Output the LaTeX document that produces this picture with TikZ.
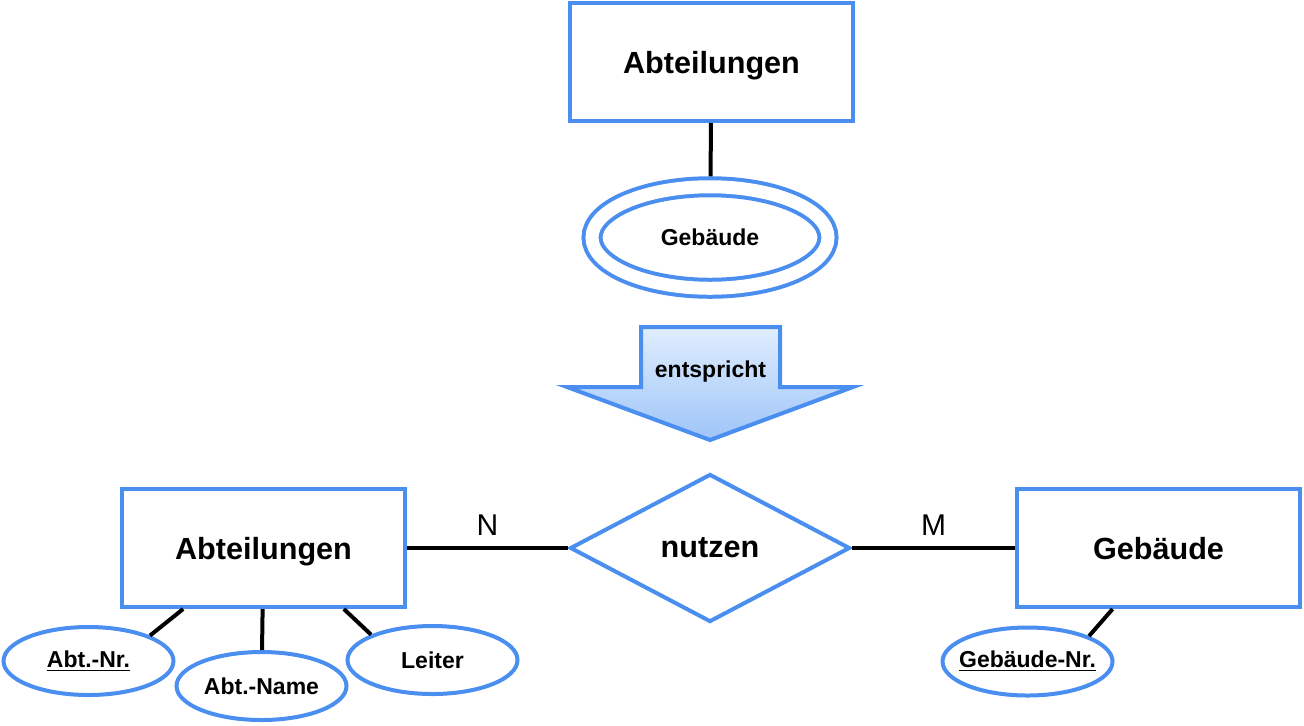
\documentclass[tikz,border=0pt]{standalone}
\usepackage{fontspec}
\setmainfont{Liberation Sans}
\usetikzlibrary{shapes.geometric}
\usetikzlibrary{calc}
\usetikzlibrary{positioning}
\definecolor{erblue}{RGB}{74,142,239}
\definecolor{pfeiloben}{RGB}{224,237,253}
\definecolor{pfeilunten}{RGB}{158,197,248}
\newcommand{\gross}{\fontsize{15.3}{18}\selectfont\bfseries}
\newcommand{\klein}{\fontsize{11.5}{14}\selectfont\bfseries}

\begin{document}
\begin{tikzpicture}[
	x=0.5pt, y=-0.5pt,
	entity/.style = {draw=erblue, line width=2pt, minimum width=141.5pt, minimum height=59pt, inner sep=0pt, text depth=0pt, font=\gross},
	attrib/.style = {ellipse, draw=erblue, line width=2pt, minimum width=85pt, minimum height=34pt, inner sep=0pt, inner xsep=-6pt, font=\klein},
	multiattrib/.style = {ellipse, draw=erblue, line width=2pt, double, double distance=6.5pt, minimum width=118pt, minimum height=50.75pt, inner sep=0pt, outer sep=5.25pt, font=\klein},
	relation/.style = {diamond, draw=erblue, line width=2pt, minimum width=140pt, minimum height=74pt, inner sep=0pt, font=\gross},
	conn/.style = {black, line width=2pt},
	card/.style = {above=2pt, font=\fontsize{15}{18}\selectfont}
	]
	\useasboundingbox (0,0) rectangle (1304,725);

	% mehrwertiges Attribut
	\node[entity] (abtoben) at (711.5,62) {Abteilungen};
	\node[multiattrib] (gebmehr) at (710,237.5) {Gebäude};
	\draw[conn] (abtoben) -- (gebmehr);

	% Pfeil
	\shadedraw[top color=pfeiloben, bottom color=pfeilunten, draw=erblue, line width=2pt]
		(641,327) -- (780,327) -- (780,387) -- (853,387) -- (710,440) -- (567,387) -- (641,387) -- cycle;
	\node[font=\klein] (entspricht) at (710.5,372) {entspricht};

	% Beziehung
	\node[entity] (abt) at (263.5,548) {Abteilungen};
	\node[relation] (nutzen) at (710,548) {nutzen};
	\node[entity] (geb) at (1158.5,548) {Gebäude};

	\draw[conn] (abt) -- node[card] {N} (nutzen);
	\draw[conn] (nutzen) -- node[card] {M} (geb);

	\node[attrib] (abtnr) at (88.5,661) {\underline{Abt.-Nr.}};
	\node[attrib] (abtname) at (261.5,686) {Abt.-Name};
	\node[attrib] (leiter) at (432.5,660) {Leiter};
	\node[attrib] (gebnr) at (1027.5,661.5) {\underline{Gebäude-Nr.}};

	\draw[conn] (abtnr.north east) -- ($(abt.south west)!0.22!(abt.south east)$);
	\draw[conn] (abtname) -- (abt);
	\draw[conn] (leiter.north west) -- ($(abt.south west)!0.78!(abt.south east)$);
	\draw[conn] (gebnr.north east) -- ($(geb.south west)!0.34!(geb.south east)$);

\end{tikzpicture}
\end{document}
